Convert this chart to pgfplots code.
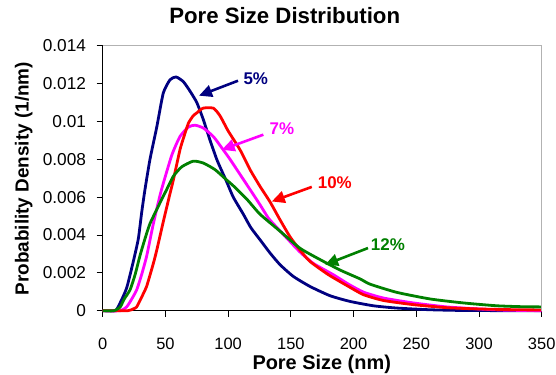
\documentclass[border=0pt]{standalone}
\usepackage{fontspec}
\setmainfont{Liberation Sans}
\usepackage{pgfplots}
\pgfplotsset{compat=1.18}
\usetikzlibrary{arrows.meta}
\definecolor{cblue}{RGB}{0,0,128}
\definecolor{cmag}{RGB}{255,0,255}
\definecolor{cred}{RGB}{255,0,0}
\definecolor{cgreen}{RGB}{0,128,0}
\begin{document}
\begin{tikzpicture}
\begin{axis}[
  at={(0,0)}, anchor=south west,
  scale only axis, width=439bp, height=265bp,
  xmin=0, xmax=350, ymin=0, ymax=0.014,
  axis x line*=bottom, axis y line*=left,
  axis line style={black, line width=1bp},
  clip=false,
  scaled y ticks=false, scaled x ticks=false,
  xtick={0,50,100,150,200,250,300,350},
  xticklabels={0,50,100,150,200,250,300,350},
  ytick={0,0.002,0.004,0.006,0.008,0.01,0.012,0.014},
  yticklabels={0,0.002,0.004,0.006,0.008,0.01,0.012,0.014},
  tick align=outside, major tick length=6bp,
  tick style={black, line width=0.8bp},
  xticklabel style={anchor=base, inner sep=0pt, yshift=-32.5bp+0pt, font=\fontsize{16.5}{18}\selectfont},
  yticklabel style={anchor=east, inner sep=0pt, xshift=-10.5bp, font=\fontsize{17.3}{19}\selectfont},
  title={Pore Size Distribution},
  title style={at={(axis description cs:0.4146,1.063)}, anchor=base, inner sep=0pt, font=\bfseries\fontsize{22.3}{25}\selectfont},
  xlabel={Pore Size (nm)},
  xlabel style={at={(axis description cs:0.4989,-0.2226)}, anchor=base, inner sep=0pt, font=\bfseries\fontsize{20}{23}\selectfont},
  ylabel={Probability Density (1/nm)},
  ylabel style={at={(axis description cs:-0.1686,0.4981)}, anchor=base, inner sep=0pt, font=\bfseries\fontsize{19}{22}\selectfont},
]
% 5%
\addplot[cblue, line width=2.8bp, line join=round, smooth, tension=0.35] coordinates {
(0,0) (10,0) (13.8,0.0004) (19.1,0.0012) (24.4,0.0026) (28.4,0.0038) (31.1,0.0052)
(33.7,0.0064) (37.7,0.0080) (43.1,0.0097) (48.3,0.0115) (53.7,0.0122) (58.5,0.01235)
(64.3,0.0121) (69.6,0.0116) (75,0.0110) (80.2,0.0101) (85.6,0.0090) (90.9,0.0080)
(93.5,0.0076) (98.9,0.0068) (104.1,0.0060) (112.1,0.0051) (118,0.0044) (125.4,0.00375)
(133.4,0.00305) (141.4,0.00243) (152,0.00181) (165.3,0.00128) (181.3,0.00079)
(197.2,0.00049) (215.8,0.00026) (234.4,0.00014) (261,0.00005) (290,0.00001) (350,0)
};
% 7%
\addplot[cmag, line width=2.8bp, line join=round, smooth, tension=0.35] coordinates {
(0,0) (14,0) (19.1,0.0002) (23,0.0006) (27.1,0.0011) (31,0.0019) (35.1,0.0029)
(40.4,0.0046) (46.5,0.0063) (55,0.0082) (61.6,0.0092) (68.3,0.0097) (73.6,0.0098)
(80.2,0.00965) (88.2,0.0092) (95,0.0086) (101.5,0.0080) (109.5,0.0072) (117.5,0.0064)
(125.4,0.0056) (132,0.0049) (136,0.0046) (146.7,0.00384) (157.3,0.0031) (167.9,0.0025)
(183.9,0.0019) (196,0.0014) (208,0.00098) (223.8,0.00067) (247.7,0.00041)
(274.3,0.0002) (300.9,0.00009) (320,0.00003) (350,0)
};
% 10%
\addplot[cred, line width=2.8bp, line join=round, smooth, tension=0.35] coordinates {
(0,0) (20,0) (24.4,0.0001) (27.1,0.0002) (32.4,0.0009) (35.1,0.0013) (40.4,0.0025)
(43.1,0.0032) (48.3,0.0047) (53.7,0.0062) (56.3,0.0069) (61.6,0.0085) (64.3,0.0091)
(68.3,0.0099) (72.2,0.0103) (75,0.01045) (80,0.0107) (88.2,0.0107) (93.5,0.0103)
(100,0.0095) (109.5,0.0085) (117.5,0.00745) (125.4,0.00657)
(133.4,0.00575) (141.4,0.0048) (149.4,0.0039) (157.3,0.0032) (165.3,0.0026)
(180,0.0019) (196,0.00128) (207.8,0.00085) (223.8,0.00054) (247.7,0.00032)
(274.3,0.00016) (300.9,0.00009) (330,0.00005) (350,0.00004)
};
% 12%
\addplot[cgreen, line width=2.8bp, line join=round, smooth, tension=0.35] coordinates {
(0,0) (9,0) (14,0.0002) (17,0.0006) (21.8,0.0011) (25.8,0.0019) (29.7,0.0029)
(33.7,0.0038) (37.7,0.0046) (45.7,0.0057) (51,0.0064) (56.3,0.0071) (63,0.0076)
(72.2,0.0079) (80.2,0.0078) (89.6,0.00745) (98.9,0.0069) (104.1,0.0066) (114.8,0.0059)
(125.4,0.0051) (141.4,0.0042) (157.3,0.0033) (173.3,0.0027) (189.2,0.00215)
(205.2,0.00168) (213.2,0.00140) (234.4,0.00097) (261,0.00062) (287.6,0.00041)
(314.2,0.00026) (335,0.00021) (350,0.0002)
};
% gray top and right frame
\draw[gray!60, line width=1bp] (rel axis cs:0,1) -- (rel axis cs:1,1) -- (rel axis cs:1,0);
% annotations
\draw[cblue, line width=2.6bp, -{Triangle[length=13bp,width=12bp]}] (axis cs:107.9,0.01215) -- (axis cs:76.8,0.01136);
\node[cblue, anchor=west, inner sep=0pt, font=\bfseries\fontsize{17}{20}\selectfont] at (axis cs:112.1,0.01226) {5\%};
\draw[cmag, line width=2.6bp, -{Triangle[length=13bp,width=12bp]}] (axis cs:128.1,0.0093) -- (axis cs:94.9,0.0085);
\node[cmag, anchor=west, inner sep=0pt, font=\bfseries\fontsize{17}{20}\selectfont] at (axis cs:132.9,0.00963) {7\%};
\draw[cred, line width=2.6bp, -{Triangle[length=13bp,width=12bp]}] (axis cs:166.7,0.00654) -- (axis cs:134.8,0.00577);
\node[cred, anchor=west, inner sep=0pt, font=\bfseries\fontsize{17}{20}\selectfont] at (axis cs:171.4,0.00675) {10\%};
\draw[cgreen, line width=2.6bp, -{Triangle[length=13bp,width=12bp]}] (axis cs:211.5,0.00331) -- (axis cs:177.3,0.00243);
\node[cgreen, anchor=west, inner sep=0pt, font=\bfseries\fontsize{17}{20}\selectfont] at (axis cs:213.7,0.00348) {12\%};
\end{axis}
\pgfresetboundingbox
\path[use as bounding box] (-102.7bp,-64.3bp) rectangle (453.3bp,310.7bp);
\end{tikzpicture}
\end{document}
